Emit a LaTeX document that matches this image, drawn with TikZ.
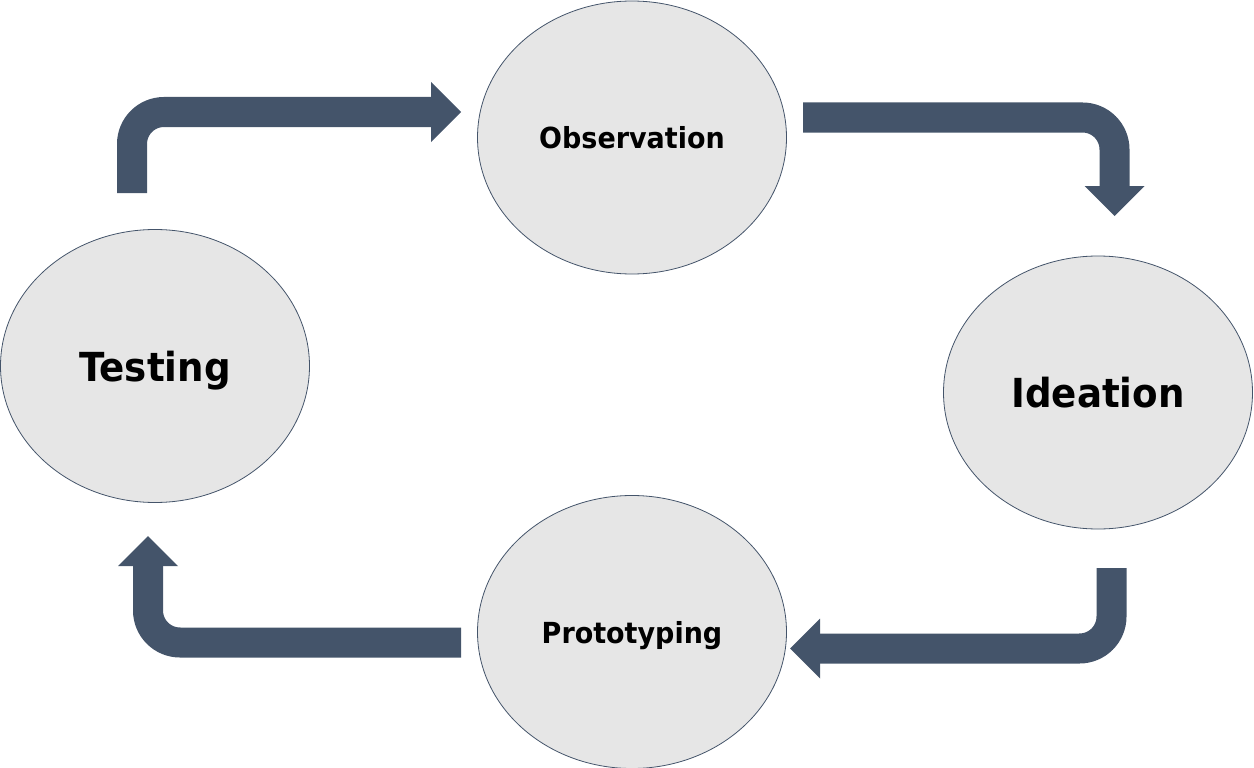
\documentclass[tikz,border=0pt]{standalone}
\usepackage{fontspec}
\newfontfamily\labfont[FakeStretch=0.93]{DejaVu Sans Bold}
\usetikzlibrary{arrows.meta,shapes.geometric}
\definecolor{arrowc}{HTML}{44546A}
\definecolor{ellfill}{HTML}{E6E6E6}
\begin{document}
\begin{tikzpicture}[x=1pt,y=-1pt,
  stage/.style={ellipse, draw=arrowc, line width=0.8pt, fill=ellfill,
    minimum width=309pt, minimum height=273pt, inner sep=0pt, text depth=0pt},
  bigtxt/.style={font=\labfont\fontsize{40}{40}\selectfont},
  smalltxt/.style={font=\labfont\fontsize{29}{29}\selectfont},
  flow/.style={draw=arrowc, line width=30pt, rounded corners=32pt,
    -{Triangle[length=30pt,width=60pt,line width=0pt]}}]
\useasboundingbox (0,0) rectangle (1254,768);

\node[stage, smalltxt] (obs) at (632,137.5) {Observation};
\node[stage, bigtxt]   (ide) at (1098,392.5) {Ideation};
\node[stage, smalltxt] (pro) at (632,632) {Prototyping};
\node[stage, bigtxt]   (tes) at (155,366) {Testing};

% arrow 1: Testing -> Observation
\coordinate (a1s) at (132,193);
\coordinate (a1e) at (461,112);
\draw[flow] (a1s) |- (a1e);

% arrow 2: Observation -> Ideation
\coordinate (a2s) at (803,117.5);
\coordinate (a2e) at (1114.5,216);
\draw[flow] (a2s) -| (a2e);

% arrow 3: Ideation -> Prototyping
\coordinate (a3s) at (1111.5,568);
\coordinate (a3e) at (790,648.5);
\draw[flow] (a3s) |- (a3e);

% arrow 4: Prototyping -> Testing
\coordinate (a4s) at (461,642.5);
\coordinate (a4e) at (148,536);
\draw[flow] (a4s) -| (a4e);
\end{tikzpicture}
\end{document}
